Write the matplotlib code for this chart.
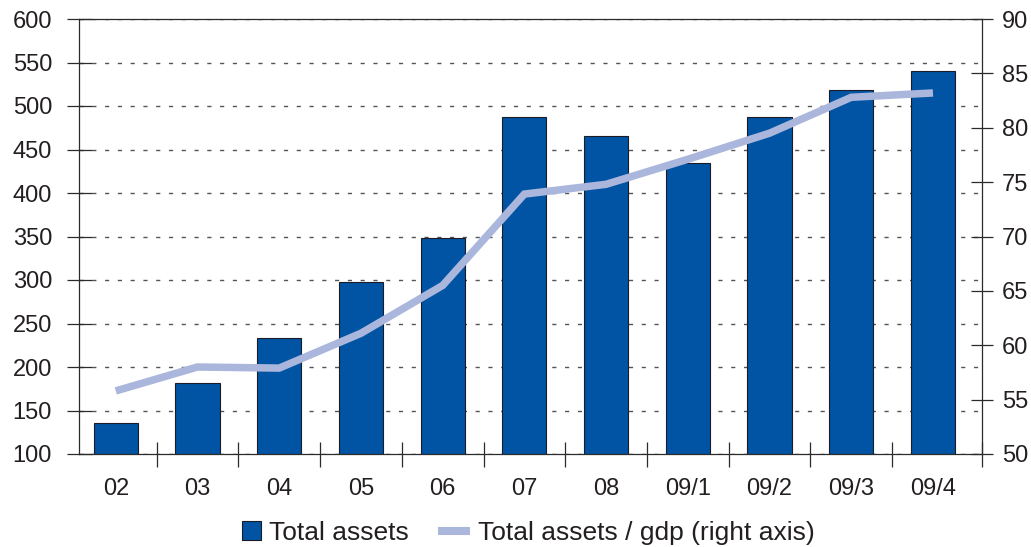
import matplotlib
matplotlib.use('Agg')
import matplotlib.pyplot as plt
from matplotlib.patches import Rectangle, Patch
from matplotlib.lines import Line2D
from matplotlib.legend_handler import HandlerPatch
from matplotlib.ticker import FixedLocator, NullFormatter

categories = ['02', '03', '04', '05', '06', '07', '08', '09/1', '09/2', '09/3', '09/4']
total_assets = [136, 182, 233, 298, 348, 487, 466, 434, 487, 518, 540]
assets_gdp = [55.8, 58.0, 57.9, 61.1, 65.5, 73.9, 74.8, 77.1, 79.5, 82.8, 83.2]
left_ticks = [100, 150, 200, 250, 300, 350, 400, 450, 500, 550, 600]
right_ticks = [50, 55, 60, 65, 70, 75, 80, 85, 90]
label_bars = 'Total assets'
label_line = 'Total assets / gdp (right axis)'

plt.rcParams['font.family'] = ['Liberation Sans', 'DejaVu Sans']
plt.rcParams['lines.scale_dashes'] = False

TEXT = '#231F20'
AXC = '#2b2b2b'
BAR = '#0054A3'
BAR_EDGE = '#1c1c28'
LINE = '#AAB6DB'

fig = plt.figure(figsize=(10.31, 5.47), dpi=100)
ax = fig.add_axes([79 / 1031, 1 - 454 / 547, 903 / 1031, 435 / 547])

x = list(range(len(categories)))
ax.bar(x, total_assets, width=0.54, color=BAR, edgecolor=BAR_EDGE, linewidth=0.8, zorder=2)
ax.set_ylim(100, 600)
ax.set_xlim(-0.45, 10.6)
ax.set_yticks(left_ticks)
ax.set_yticklabels([str(v) for v in left_ticks])
ax.yaxis.grid(True, linestyle=(0, (3.0, 6.2)), color='#555555', linewidth=1.0)
ax.set_axisbelow(True)

ax.set_xticks(x)
ax.set_xticklabels(categories)
ax.xaxis.set_minor_locator(FixedLocator([i + 0.5 for i in range(len(categories) - 1)] + [10.6]))
ax.xaxis.set_minor_formatter(NullFormatter())
ax.tick_params(axis='x', which='major', length=0, pad=17, labelsize=17, labelcolor=TEXT)
ax.tick_params(axis='x', which='minor', direction='inout', length=18, width=0.9, color=AXC)
ax.tick_params(axis='y', direction='inout', length=18, width=0.9, color=AXC,
               labelsize=17, labelcolor=TEXT, pad=10.4)
for s in ['left', 'top', 'bottom']:
    ax.spines[s].set_color(AXC)
    ax.spines[s].set_linewidth(0.9)
ax.spines['right'].set_visible(False)

ax2 = ax.twinx()
ax2.plot(x, assets_gdp, color=LINE, lw=5.4, solid_capstyle='butt', solid_joinstyle='miter', zorder=3)
ax2.set_ylim(50, 90)
ax2.set_yticks(right_ticks)
ax2.set_yticklabels([str(v) for v in right_ticks])
ax2.tick_params(axis='y', direction='inout', length=16.5, width=0.9, color=AXC,
                labelsize=17, labelcolor=TEXT, pad=6)
for s in ['left', 'top', 'bottom']:
    ax2.spines[s].set_visible(False)
ax2.spines['right'].set_color(AXC)
ax2.spines['right'].set_linewidth(0.9)


def square(legend, orig_handle, xdescent, ydescent, width, height, fontsize):
    s = 0.72 * fontsize
    return Rectangle((width - s - xdescent, height / 2 - s / 2 - ydescent), s, s)


h_bar = Patch(facecolor=BAR, edgecolor=BAR_EDGE, linewidth=0.8, label=label_bars)
h_line = Line2D([], [], color=LINE, lw=5.8, solid_capstyle='butt', label=label_line)
leg = fig.legend(handles=[h_bar, h_line], loc='center', bbox_to_anchor=(0.506, 0.026),
                 ncol=2, frameon=False, fontsize=19, handlelength=1.21, handletextpad=0.3,
                 columnspacing=1.1, borderpad=0, borderaxespad=0,
                 handler_map={Patch: HandlerPatch(patch_func=square)})
for t in leg.get_texts():
    t.set_color(TEXT)

fig.savefig('out.png', dpi=100)
